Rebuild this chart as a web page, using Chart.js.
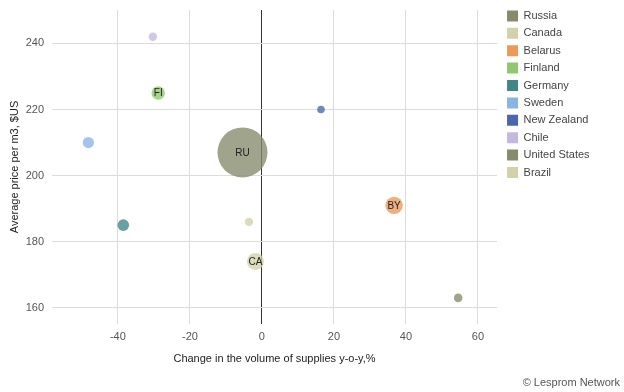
<!DOCTYPE html>
<html>
<head>
<meta charset="utf-8">
<script src="https://cdn.jsdelivr.net/npm/chart.js@4/dist/chart.umd.min.js"></script>
<style>
  body { margin: 0; background: #fff; }
  #wrap { width: 624px; height: 392px; }
</style>
</head>
<body>
<div id="wrap"><canvas id="myChart" width="624" height="392"></canvas></div>
<script>
var countries = ['Russia', 'Canada', 'Belarus', 'Finland', 'Germany', 'Sweden', 'New Zealand', 'Chile', 'United States', 'Brazil'];
var codes = ['RU', 'CA', 'BY', 'FI', '', '', '', '', '', ''];
var supplyChange = [-5.4, -1.8, 36.7, -28.8, -38.5, -48.2, 16.4, -30.3, 54.5, -3.6];
var avgPrice = [207, 174, 191, 225, 185, 210, 220, 242, 163, 186];
var bubbleSize = [25, 8.5, 8.7, 6.7, 5.8, 5.6, 3.8, 4.2, 4.3, 4.2];
var colors = ['#878a6c', '#d2d1a9', '#ec9a5a', '#90c66e', '#3f8688', '#8ab4e3', '#4a66ad', '#c4b8de', '#878a6c', '#d2d1a9'];

function fade(hex, a) {
  var n = parseInt(hex.slice(1), 16);
  return 'rgba(' + (n >> 16) + ',' + ((n >> 8) & 255) + ',' + (n & 255) + ',' + a + ')';
}

var datasets = countries.map(function (c, i) {
  return {
    label: c,
    data: [{ x: supplyChange[i], y: avgPrice[i], r: bubbleSize[i] }],
    backgroundColor: fade(colors[i], 0.78),
    borderWidth: 0,
    legendColor: colors[i]
  };
});

function onlyTwenties(s) {
  s.ticks = s.ticks.filter(function (t) { return t.value % 20 === 0; });
}

// country codes inside the bubbles + copyright line
var labelPlugin = {
  id: 'labelPlugin',
  afterLayout: function (chart) {
    var lg = chart.legend;
    var dx = chart.chartArea.right + 10 - 6.4 - lg.left;
    lg.top -= 6; lg.bottom -= 6;
    lg.left += dx; lg.right += dx;
  },
  afterDatasetsDraw: function (chart) {
    var ctx = chart.ctx;
    ctx.save();
    ctx.font = '10px Arial';
    ctx.fillStyle = '#222';
    ctx.textAlign = 'center';
    ctx.textBaseline = 'middle';
    chart.data.datasets.forEach(function (ds, i) {
      if (!codes[i]) return;
      var el = chart.getDatasetMeta(i).data[0];
      ctx.fillText(codes[i], el.x, el.y + 0.5);
    });
    ctx.restore();
  },
  afterDraw: function (chart) {
    var ctx = chart.ctx;
    ctx.save();
    ctx.font = '11px Arial';
    ctx.fillStyle = '#555';
    ctx.textAlign = 'right';
    ctx.textBaseline = 'middle';
    ctx.fillText('\u00a9 Lesprom Network', 620, 383);
    ctx.restore();
  }
};

var ctx = document.getElementById('myChart').getContext('2d');
var chart = new Chart(ctx, {
  type: 'bubble',
  data: { datasets: datasets },
  plugins: [labelPlugin],
  options: {
    responsive: false,
    animation: false,
    layout: { autoPadding: false, padding: { left: 4, top: 10, right: 28, bottom: 22.7 } },
    plugins: {
      tooltip: { enabled: false },
      legend: {
        position: 'right',
        align: 'start',
        labels: {
          boxWidth: 11,
          boxHeight: 11,
          padding: 6.4,
          color: '#444',
          font: { family: 'Arial', size: 11 },
          generateLabels: function (chart) {
            return chart.data.datasets.map(function (ds, i) {
              return { text: ds.label, fillStyle: ds.legendColor, strokeStyle: ds.legendColor, lineWidth: 0, datasetIndex: i, fontColor: '#444' };
            });
          }
        }
      }
    },
    scales: {
      x: {
        min: -58.3,
        max: 65.3,
        afterBuildTicks: onlyTwenties,
        afterFit: function (s) { s.height = 45.3; s.paddingLeft = 0; s.paddingRight = 0; },
        ticks: { stepSize: 20, includeBounds: false, padding: 6, color: '#555', font: { family: 'Arial', size: 11 } },
        grid: {
          drawTicks: false,
          color: function (c) { return c.tick && c.tick.value === 0 ? '#333' : '#dcdcdc'; }
        },
        border: { display: false },
        title: { display: true, text: 'Change in the volume of supplies y-o-y,%', color: '#222', font: { family: 'Arial', size: 11 }, padding: { top: 8.8, bottom: 4 } }
      },
      y: {
        min: 155.1,
        max: 250.1,
        afterBuildTicks: onlyTwenties,
        afterFit: function (s) { s.width = 48; s.paddingTop = 0; s.paddingBottom = 0; },
        ticks: { stepSize: 20, includeBounds: false, padding: 8, color: '#555', font: { family: 'Arial', size: 11 } },
        grid: { drawTicks: false, color: '#dcdcdc' },
        border: { display: false },
        title: { display: true, text: 'Average price per m3, $US', color: '#222', font: { family: 'Arial', size: 11 } }
      }
    }
  }
});
</script>
</body>
</html>
